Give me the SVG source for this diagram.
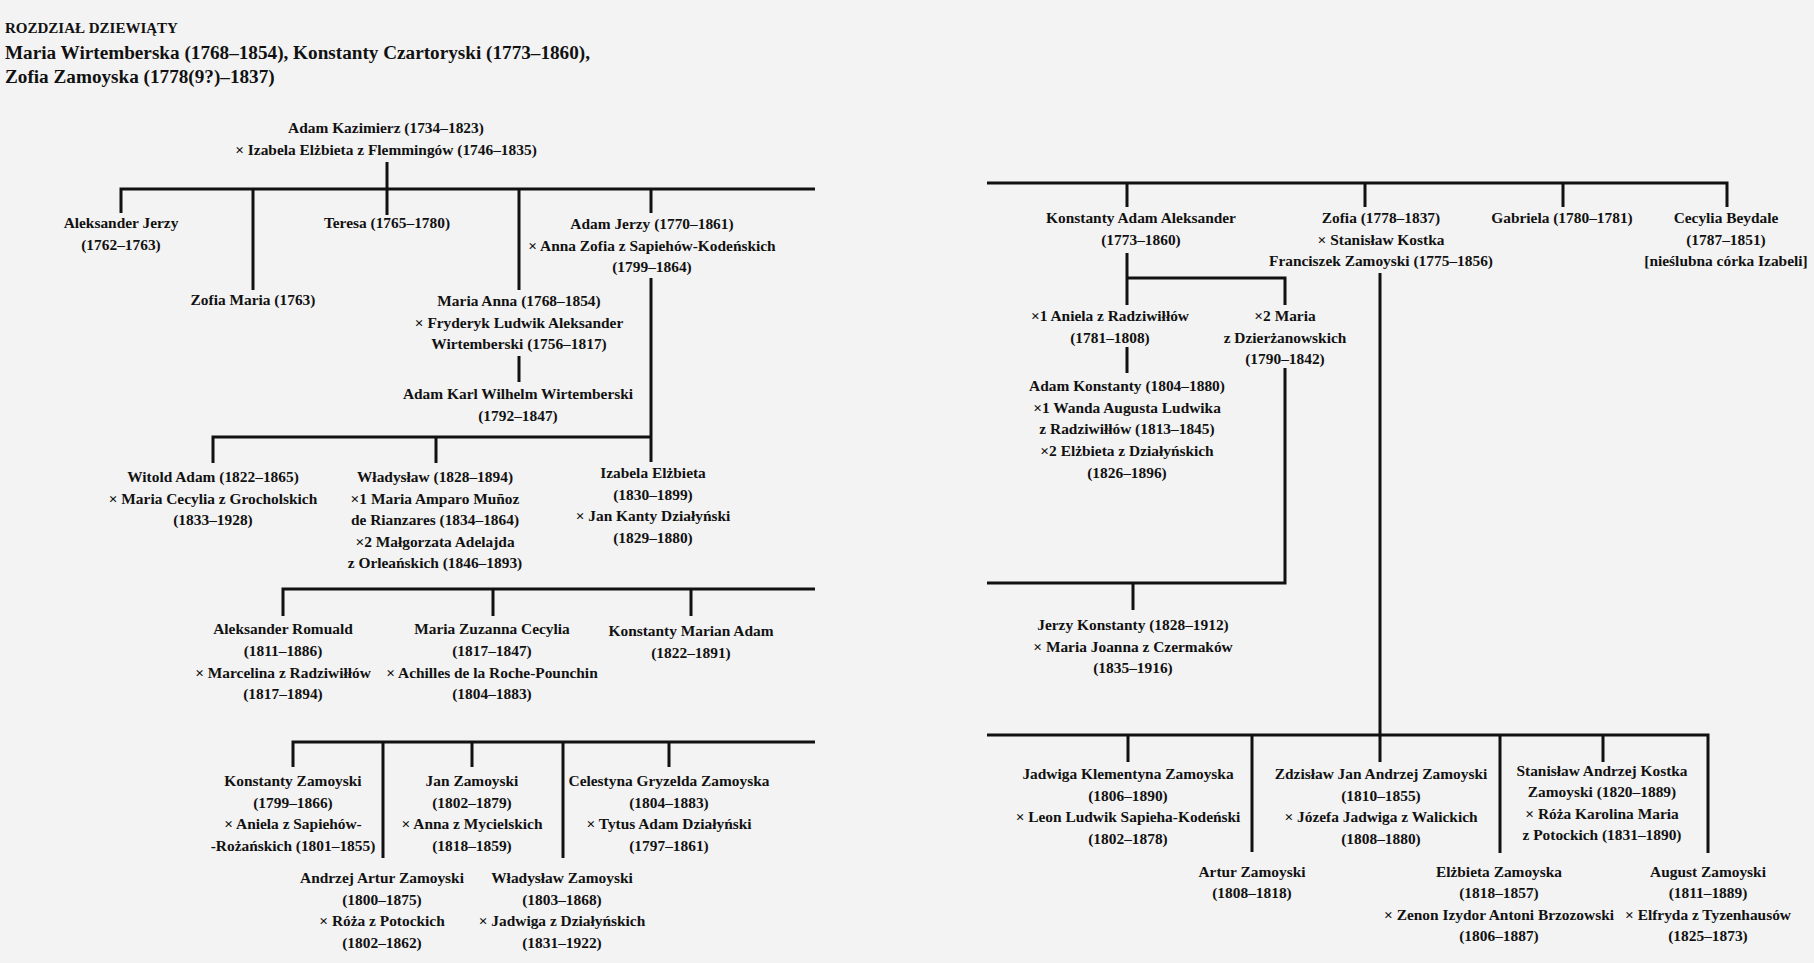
<svg xmlns="http://www.w3.org/2000/svg" width="1814" height="963" viewBox="0 0 1814 963">
<style>
  .bg { fill: #f3f3f3; }
  .t { font-family: "Liberation Serif", "Times New Roman", serif; font-weight: bold; font-size: 15.4px; fill: #111; text-anchor: middle; }
  .h { font-family: "Liberation Serif", "Times New Roman", serif; font-weight: bold; fill: #111; }
  .c { fill: none; stroke: #111; stroke-width: 3; stroke-linecap: butt; stroke-linejoin: miter; }
</style>
<rect class="bg" x="0" y="0" width="1814" height="963"/>

<g id="header">
  <text class="h" x="5" y="33" font-size="15">ROZDZIAŁ DZIEWIĄTY</text>
  <text class="h" x="5" y="59" font-size="19.2">Maria Wirtemberska (1768–1854), Konstanty Czartoryski (1773–1860),</text>
  <text class="h" x="5" y="83" font-size="19.2">Zofia Zamoyska (1778(9?)–1837)</text>
</g>

<g id="connectors">
  <path class="c" d="M387,162 V215"/>
  <path class="c" d="M121,213 V189 H815"/>
  <path class="c" d="M253,189 V290"/>
  <path class="c" d="M519,189 V290"/>
  <path class="c" d="M651,189 V213"/>
  <path class="c" d="M519,356 V382"/>
  <path class="c" d="M651,278 V462"/>
  <path class="c" d="M213,463 V437 H651"/>
  <path class="c" d="M436,437 V463"/>
  <path class="c" d="M283,616 V589 H815"/>
  <path class="c" d="M493,589 V616"/>
  <path class="c" d="M691,589 V616"/>
  <path class="c" d="M293,767 V742 H815"/>
  <path class="c" d="M383,742 V858"/>
  <path class="c" d="M472,742 V767"/>
  <path class="c" d="M563,742 V858"/>
  <path class="c" d="M669,742 V767"/>

  <path class="c" d="M987,183 H1727 V207"/>
  <path class="c" d="M1127,183 V207"/>
  <path class="c" d="M1365,183 V207"/>
  <path class="c" d="M1563,183 V207"/>
  <path class="c" d="M1127,253 V305"/>
  <path class="c" d="M1127,278 H1285 V305"/>
  <path class="c" d="M1127,347 V373"/>
  <path class="c" d="M1285,368 V583 H987"/>
  <path class="c" d="M1133,583 V610"/>
  <path class="c" d="M1380,273 V762"/>
  <path class="c" d="M987,735 H1708 V853"/>
  <path class="c" d="M1128,735 V762"/>
  <path class="c" d="M1252,735 V852"/>
  <path class="c" d="M1500,735 V853"/>
  <path class="c" d="M1603,735 V762"/>
</g>

<g id="adam-kazimierz"><text class="t"><tspan x="386" y="133">Adam Kazimierz (1734–1823)</tspan><tspan x="386" y="155">× Izabela Elżbieta z Flemmingów (1746–1835)</tspan></text></g>
<g id="aleksander-jerzy"><text class="t"><tspan x="121" y="228">Aleksander Jerzy</tspan><tspan x="121" y="250">(1762–1763)</tspan></text></g>
<g id="zofia-maria"><text class="t"><tspan x="253" y="305">Zofia Maria (1763)</tspan></text></g>
<g id="teresa"><text class="t"><tspan x="387" y="228">Teresa (1765–1780)</tspan></text></g>
<g id="adam-jerzy"><text class="t"><tspan x="652" y="229">Adam Jerzy (1770–1861)</tspan><tspan x="652" y="250.5">× Anna Zofia z Sapiehów-Kodeńskich</tspan><tspan x="652" y="272">(1799–1864)</tspan></text></g>
<g id="maria-anna"><text class="t"><tspan x="519" y="306">Maria Anna (1768–1854)</tspan><tspan x="519" y="327.5">× Fryderyk Ludwik Aleksander</tspan><tspan x="519" y="349">Wirtemberski (1756–1817)</tspan></text></g>
<g id="adam-karl"><text class="t"><tspan x="518" y="399">Adam Karl Wilhelm Wirtemberski</tspan><tspan x="518" y="421">(1792–1847)</tspan></text></g>
<g id="witold-adam"><text class="t"><tspan x="213" y="482">Witold Adam (1822–1865)</tspan><tspan x="213" y="503.5">× Maria Cecylia z Grocholskich</tspan><tspan x="213" y="525">(1833–1928)</tspan></text></g>
<g id="wladyslaw"><text class="t"><tspan x="435" y="482">Władysław (1828–1894)</tspan><tspan x="435" y="503.5">×1 Maria Amparo Muñoz</tspan><tspan x="435" y="525">de Rianzares (1834–1864)</tspan><tspan x="435" y="546.5">×2 Małgorzata Adelajda</tspan><tspan x="435" y="568">z Orleańskich (1846–1893)</tspan></text></g>
<g id="izabela-elzbieta"><text class="t"><tspan x="653" y="478">Izabela Elżbieta</tspan><tspan x="653" y="499.5">(1830–1899)</tspan><tspan x="653" y="521">× Jan Kanty Działyński</tspan><tspan x="653" y="542.5">(1829–1880)</tspan></text></g>
<g id="aleksander-romuald"><text class="t"><tspan x="283" y="634">Aleksander Romuald</tspan><tspan x="283" y="656">(1811–1886)</tspan><tspan x="283" y="677.5">× Marcelina z Radziwiłłów</tspan><tspan x="283" y="699">(1817–1894)</tspan></text></g>
<g id="maria-zuzanna"><text class="t"><tspan x="492" y="634">Maria Zuzanna Cecylia</tspan><tspan x="492" y="656">(1817–1847)</tspan><tspan x="492" y="677.5">× Achilles de la Roche-Pounchin</tspan><tspan x="492" y="699">(1804–1883)</tspan></text></g>
<g id="konstanty-marian"><text class="t"><tspan x="691" y="636">Konstanty Marian Adam</tspan><tspan x="691" y="658">(1822–1891)</tspan></text></g>
<g id="konstanty-zamoyski"><text class="t"><tspan x="293" y="786">Konstanty Zamoyski</tspan><tspan x="293" y="808">(1799–1866)</tspan><tspan x="293" y="829">× Aniela z Sapiehów-</tspan><tspan x="293" y="851">-Rożańskich (1801–1855)</tspan></text></g>
<g id="andrzej-artur"><text class="t"><tspan x="382" y="883">Andrzej Artur Zamoyski</tspan><tspan x="382" y="905">(1800–1875)</tspan><tspan x="382" y="926">× Róża z Potockich</tspan><tspan x="382" y="948">(1802–1862)</tspan></text></g>
<g id="jan-zamoyski"><text class="t"><tspan x="472" y="786">Jan Zamoyski</tspan><tspan x="472" y="808">(1802–1879)</tspan><tspan x="472" y="829">× Anna z Mycielskich</tspan><tspan x="472" y="851">(1818–1859)</tspan></text></g>
<g id="wladyslaw-zamoyski"><text class="t"><tspan x="562" y="883">Władysław Zamoyski</tspan><tspan x="562" y="905">(1803–1868)</tspan><tspan x="562" y="926">× Jadwiga z Działyńskich</tspan><tspan x="562" y="948">(1831–1922)</tspan></text></g>
<g id="celestyna"><text class="t"><tspan x="669" y="786">Celestyna Gryzelda Zamoyska</tspan><tspan x="669" y="808">(1804–1883)</tspan><tspan x="669" y="829">× Tytus Adam Działyński</tspan><tspan x="669" y="851">(1797–1861)</tspan></text></g>

<g id="konstanty-adam-aleksander"><text class="t"><tspan x="1141" y="223">Konstanty Adam Aleksander</tspan><tspan x="1141" y="245">(1773–1860)</tspan></text></g>
<g id="zofia"><text class="t"><tspan x="1381" y="223">Zofia (1778–1837)</tspan><tspan x="1381" y="245">× Stanisław Kostka</tspan><tspan x="1381" y="266">Franciszek Zamoyski (1775–1856)</tspan></text></g>
<g id="gabriela"><text class="t"><tspan x="1562" y="223">Gabriela (1780–1781)</tspan></text></g>
<g id="cecylia"><text class="t"><tspan x="1726" y="223">Cecylia Beydale</tspan><tspan x="1726" y="245">(1787–1851)</tspan><tspan x="1726" y="266">[nieślubna córka Izabeli]</tspan></text></g>
<g id="aniela"><text class="t"><tspan x="1110" y="321">×1 Aniela z Radziwiłłów</tspan><tspan x="1110" y="343">(1781–1808)</tspan></text></g>
<g id="maria-dzierzanowska"><text class="t"><tspan x="1285" y="321">×2 Maria</tspan><tspan x="1285" y="343">z Dzierżanowskich</tspan><tspan x="1285" y="364">(1790–1842)</tspan></text></g>
<g id="adam-konstanty"><text class="t"><tspan x="1127" y="391">Adam Konstanty (1804–1880)</tspan><tspan x="1127" y="413">×1 Wanda Augusta Ludwika</tspan><tspan x="1127" y="434">z Radziwiłłów (1813–1845)</tspan><tspan x="1127" y="456">×2 Elżbieta z Działyńskich</tspan><tspan x="1127" y="477.5">(1826–1896)</tspan></text></g>
<g id="jerzy-konstanty"><text class="t"><tspan x="1133" y="630">Jerzy Konstanty (1828–1912)</tspan><tspan x="1133" y="652">× Maria Joanna z Czermaków</tspan><tspan x="1133" y="673">(1835–1916)</tspan></text></g>
<g id="jadwiga"><text class="t"><tspan x="1128" y="779">Jadwiga Klementyna Zamoyska</tspan><tspan x="1128" y="801">(1806–1890)</tspan><tspan x="1128" y="822">× Leon Ludwik Sapieha-Kodeński</tspan><tspan x="1128" y="844">(1802–1878)</tspan></text></g>
<g id="artur"><text class="t"><tspan x="1252" y="877">Artur Zamoyski</tspan><tspan x="1252" y="898">(1808–1818)</tspan></text></g>
<g id="zdzislaw"><text class="t"><tspan x="1381" y="779">Zdzisław Jan Andrzej Zamoyski</tspan><tspan x="1381" y="801">(1810–1855)</tspan><tspan x="1381" y="822">× Józefa Jadwiga z Walickich</tspan><tspan x="1381" y="844">(1808–1880)</tspan></text></g>
<g id="elzbieta"><text class="t"><tspan x="1499" y="877">Elżbieta Zamoyska</tspan><tspan x="1499" y="898">(1818–1857)</tspan><tspan x="1499" y="920">× Zenon Izydor Antoni Brzozowski</tspan><tspan x="1499" y="941">(1806–1887)</tspan></text></g>
<g id="stanislaw"><text class="t"><tspan x="1602" y="776">Stanisław Andrzej Kostka</tspan><tspan x="1602" y="797">Zamoyski (1820–1889)</tspan><tspan x="1602" y="819">× Róża Karolina Maria</tspan><tspan x="1602" y="840">z Potockich (1831–1890)</tspan></text></g>
<g id="august"><text class="t"><tspan x="1708" y="877">August Zamoyski</tspan><tspan x="1708" y="898">(1811–1889)</tspan><tspan x="1708" y="920">× Elfryda z Tyzenhausów</tspan><tspan x="1708" y="941">(1825–1873)</tspan></text></g>
</svg>
